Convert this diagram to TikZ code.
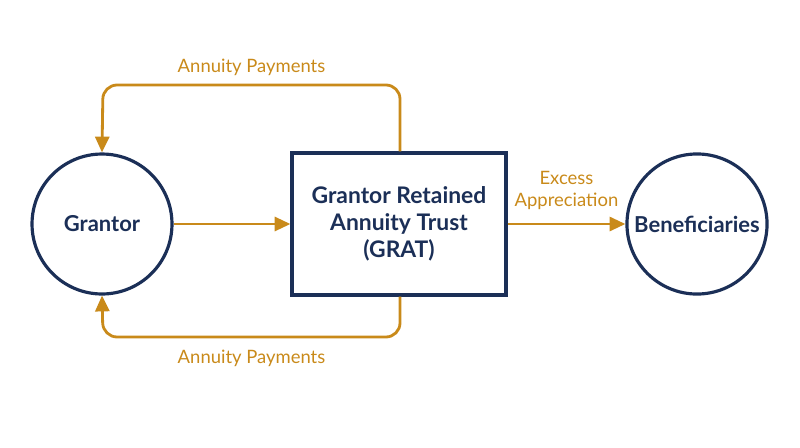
\documentclass[tikz,border=0pt]{standalone}
\usepackage{fontspec}
\setmainfont{Lato}
\usetikzlibrary{arrows.meta,positioning}
\definecolor{navy}{HTML}{1B2F57}
\definecolor{gold}{HTML}{C98A1A}
\tikzset{
    party/.style={circle, draw=navy, line width=1.8pt, minimum size=2.8cm, font=\fontsize{12.5}{15}\selectfont\bfseries, text=navy},
    trust/.style={rectangle, draw=navy, line width=1.8pt, minimum width=4.28cm, minimum height=2.84cm, align=center, font=\fontsize{13}{15.5}\selectfont\bfseries, text=navy},
    flow/.style={draw=gold, line width=1.6pt, -{Triangle[length=9pt,width=8pt]}, rounded corners=8pt},
    lbl/.style={font=\fontsize{10.5}{12.5}\selectfont, text=gold, align=center}
}
\begin{document}
\begin{tikzpicture}[x=0.02cm,y=-0.02cm]
    \useasboundingbox (0,0) rectangle (800,447);
    \node[party] (grantor) at (102,224) {Grantor};
    \node[trust] (grat) at (399,224) {Grantor Retained\\Annuity Trust\\(GRAT)};
    \node[party] (benef) at (697,224) {Beneficiaries};
    \coordinate (topR) at (400,85);
    \coordinate (topL) at (103,85);
    \coordinate (botR) at (400,337);
    \coordinate (botL) at (103,337);
    \draw[flow] (grantor) -- (grat);
    \draw[flow] (grat) -- node[lbl, above=4pt]{Excess\\Appreciation} (benef);
    \draw[flow] (grat.north -| topR) -- (topR) -- node[lbl, above=1pt]{Annuity Payments} (topL) -- (grantor.north);
    \draw[flow] (grat.south -| botR) -- (botR) -- node[lbl, below=3pt]{Annuity Payments} (botL) -- (grantor.south);
\end{tikzpicture}
\end{document}
